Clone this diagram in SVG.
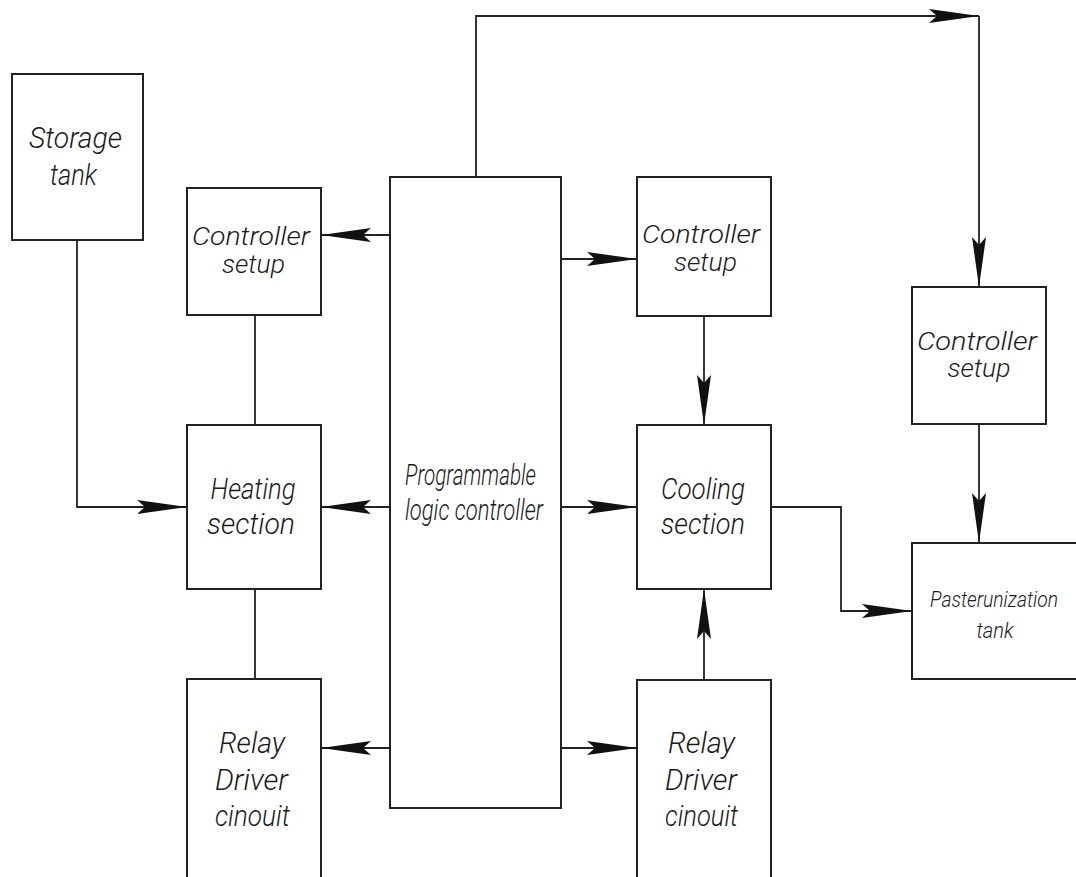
<svg xmlns="http://www.w3.org/2000/svg" width="1076" height="877" viewBox="0 0 1076 877">
<style>
.box{fill:#fff;stroke:#222;stroke-width:2}
.ln{fill:none;stroke:#222;stroke-width:1.8}
.ar{marker-end:url(#ah)}
text{font-family:Roboto,"DejaVu Sans","Liberation Sans",sans-serif;font-weight:300;font-style:italic;font-size:30px;fill:#1a1a1a;text-anchor:middle}
.md{font-size:25px}
.sm{font-size:22px}
</style>
<defs>
<marker id="ah" markerUnits="userSpaceOnUse" markerWidth="50" markerHeight="16" refX="50" refY="8" orient="auto" viewBox="0 0 50 16">
<path d="M0,1 L50,8 L0,15 L8,8 Z" fill="#111"/>
</marker>
</defs>
<rect width="1076" height="877" fill="#fff"/>
<g id="connectors">
<path class="ln ar" d="M77,240 V507 H187"/>
<path class="ln" d="M255,315 V425"/>
<path class="ln" d="M255,589 V679"/>
<path class="ln ar" d="M390,235 H321"/>
<path class="ln ar" d="M390,507 H321"/>
<path class="ln ar" d="M390,748 H321"/>
<path class="ln ar" d="M561,259 H637"/>
<path class="ln ar" d="M561,507 H637"/>
<path class="ln ar" d="M561,748 H637"/>
<path class="ln ar" d="M704,316 V425"/>
<path class="ln ar" d="M704,680 V589"/>
<path class="ln ar" d="M476,177 V16 H979"/>
<path class="ln ar" d="M979,16 V287"/>
<path class="ln ar" d="M979,424 V543"/>
<path class="ln ar" d="M771,507 H841 V611 H912"/>
</g>
<g id="storage-tank">
<rect class="box" x="12" y="74" width="131" height="166"/>
<text x="75.5" y="148" textLength="93" lengthAdjust="spacingAndGlyphs">Storage</text>
<text x="73.5" y="185" textLength="47" lengthAdjust="spacingAndGlyphs">tank</text>
</g>
<g id="controller-setup-left">
<rect class="box" x="187" y="188" width="134" height="127"/>
<text class="md" x="251" y="245" textLength="118" lengthAdjust="spacingAndGlyphs">Controller</text>
<text class="md" x="253.5" y="273" textLength="63" lengthAdjust="spacingAndGlyphs">setup</text>
</g>
<g id="heating-section">
<rect class="box" x="187" y="425" width="134" height="164"/>
<text x="253" y="499" textLength="85" lengthAdjust="spacingAndGlyphs">Heating</text>
<text x="251" y="534" textLength="88" lengthAdjust="spacingAndGlyphs">section</text>
</g>
<g id="relay-left">
<path class="box" d="M187,877 V679 H321 V877"/>
<text x="252" y="753" textLength="66" lengthAdjust="spacingAndGlyphs">Relay</text>
<text x="251.5" y="790" textLength="73" lengthAdjust="spacingAndGlyphs">Driver</text>
<text x="252.5" y="826" textLength="75" lengthAdjust="spacingAndGlyphs">cinouit</text>
</g>
<g id="plc">
<rect class="box" x="390" y="177" width="171" height="631"/>
<text x="470.5" y="485" textLength="131" lengthAdjust="spacingAndGlyphs">Programmable</text>
<text x="474" y="520" textLength="138" lengthAdjust="spacingAndGlyphs">logic controller</text>
</g>
<g id="controller-setup-mid">
<rect class="box" x="637" y="177" width="134" height="139"/>
<text class="md" x="701" y="243" textLength="118" lengthAdjust="spacingAndGlyphs">Controller</text>
<text class="md" x="705.5" y="271" textLength="63" lengthAdjust="spacingAndGlyphs">setup</text>
</g>
<g id="cooling-section">
<rect class="box" x="637" y="425" width="134" height="164"/>
<text x="703" y="499" textLength="84" lengthAdjust="spacingAndGlyphs">Cooling</text>
<text x="703" y="534" textLength="84" lengthAdjust="spacingAndGlyphs">section</text>
</g>
<g id="relay-right">
<path class="box" d="M637,877 V680 H771 V877"/>
<text x="701.5" y="753" textLength="67" lengthAdjust="spacingAndGlyphs">Relay</text>
<text x="701" y="790" textLength="72" lengthAdjust="spacingAndGlyphs">Driver</text>
<text x="701.5" y="826" textLength="73" lengthAdjust="spacingAndGlyphs">cinouit</text>
</g>
<g id="controller-setup-right">
<rect class="box" x="912" y="287" width="134" height="137"/>
<text class="md" x="977" y="350" textLength="120" lengthAdjust="spacingAndGlyphs">Controller</text>
<text class="md" x="979" y="377" textLength="63" lengthAdjust="spacingAndGlyphs">setup</text>
</g>
<g id="pasteurization-tank">
<path class="box" d="M1076,543 H912 V679 H1076"/>
<text class="sm" x="994" y="607" textLength="128" lengthAdjust="spacingAndGlyphs">Pasterunization</text>
<text class="sm" x="995" y="638" textLength="37" lengthAdjust="spacingAndGlyphs">tank</text>
</g>
</svg>
